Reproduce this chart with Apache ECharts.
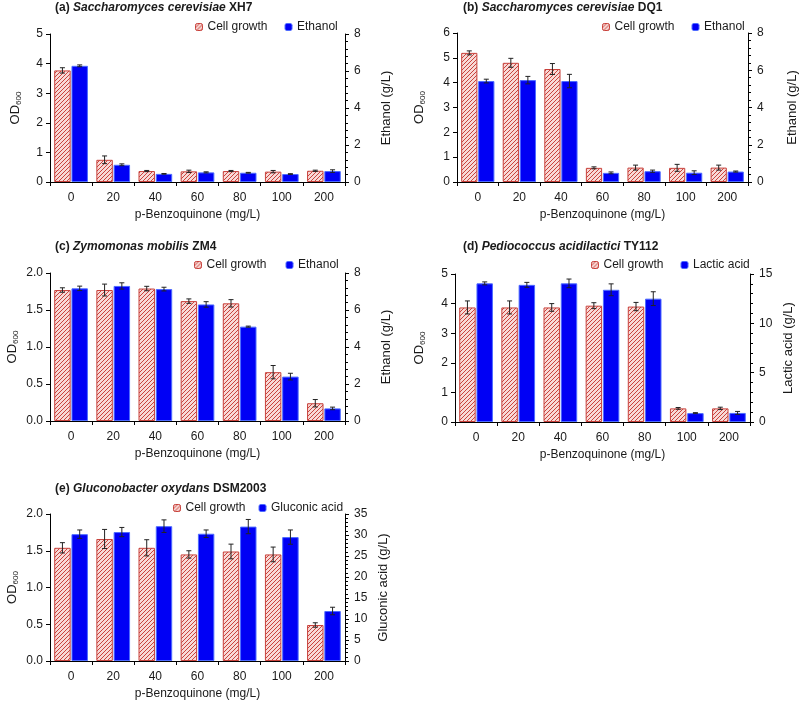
<!DOCTYPE html>
<html><head><meta charset="utf-8">
<script src="https://cdn.jsdelivr.net/npm/echarts@6/dist/echarts.min.js"></script>
<style>html,body{margin:0;padding:0;background:#fff}#c{width:800px;height:701px}</style>
</head><body><div id="c"></div>
<script>
const categories = ['0','20','40','60','80','100','200'];

const aCell = [3.77,0.75,0.37,0.36,0.37,0.35,0.38];
const aCellErr = [0.09,0.13,0.02,0.04,0.02,0.04,0.02];
const aEth = [6.28,0.93,0.44,0.52,0.50,0.43,0.59];
const aEthErr = [0.05,0.05,0.02,0.03,0.02,0.02,0.07];

const bCell = [5.20,4.80,4.55,0.57,0.58,0.57,0.58];
const bCellErr = [0.08,0.18,0.22,0.04,0.10,0.14,0.10];
const bEth = [5.42,5.47,5.42,0.49,0.58,0.50,0.56];
const bEthErr = [0.10,0.20,0.36,0.05,0.06,0.10,0.03];

const cCell = [1.77,1.77,1.79,1.62,1.59,0.66,0.24];
const cCellErr = [0.03,0.08,0.03,0.03,0.05,0.09,0.05];
const cEth = [7.17,7.30,7.13,6.30,5.10,2.40,0.68];
const cEthErr = [0.12,0.17,0.10,0.15,0.03,0.18,0.07];

const dCell = [3.87,3.87,3.87,3.93,3.90,0.46,0.46];
const dCellErr = [0.22,0.22,0.13,0.10,0.14,0.03,0.04];
const dLac = [14.05,13.90,14.05,13.40,12.50,0.90,0.92];
const dLacErr = [0.15,0.25,0.44,0.60,0.70,0.05,0.15];

const eCell = [1.54,1.66,1.54,1.45,1.49,1.45,0.49];
const eCellErr = [0.07,0.13,0.11,0.05,0.10,0.10,0.03];
const eGlu = [30.2,30.7,32.1,30.3,32.0,29.5,11.9];
const eGluErr = [1.0,1.1,1.5,0.9,1.7,1.7,0.9];

const FONT = '"Liberation Sans", Arial, sans-serif';

// hatch pattern
const pc = document.createElement('canvas');
pc.width = 4; pc.height = 4;
const g = pc.getContext('2d');
g.fillStyle = '#f8d9d6'; g.fillRect(0,0,4,4);
g.strokeStyle = '#c9433d'; g.lineWidth = 1;
g.beginPath(); g.moveTo(-1,5); g.lineTo(5,-1); g.stroke();
g.beginPath(); g.moveTo(-1,1); g.lineTo(1,-1); g.stroke();
g.beginPath(); g.moveTo(3,5); g.lineTo(5,3); g.stroke();
const hatch = {image: pc, repeat: 'repeat'};

const panels = [
  {tag:'(a) ', sp:'Saccharomyces cerevisiae', st:' XH7', grid:{left:50,top:34,width:295,height:148}, lmax:5, lint:1, ldec:0, rmax:8, rint:2, prod:'Ethanol', rname:'Ethanol (g/L)', cell:aCell, cellErr:aCellErr, p:aEth, pErr:aEthErr, titleX:55, titleY:2, legX:195, legY:21, legGap:17, lnameGap:27, rnameGap:35},
  {tag:'(b) ', sp:'Saccharomyces cerevisiae', st:' DQ1', grid:{left:457,top:33,width:293,height:149}, lmax:6, lint:1, ldec:0, rmax:8, rint:2, prod:'Ethanol', rname:'Ethanol (g/L)', cell:bCell, cellErr:bCellErr, p:bEth, pErr:bEthErr, titleX:463, titleY:2, legX:602, legY:21, legGap:17, lnameGap:30, rnameGap:38},
  {tag:'(c) ', sp:'Zymomonas mobilis', st:' ZM4', grid:{left:50,top:273,width:295,height:148}, lmax:2, lint:0.5, ldec:1, rmax:8, rint:2, prod:'Ethanol', rname:'Ethanol (g/L)', cell:cCell, cellErr:cCellErr, p:cEth, pErr:cEthErr, titleX:55, titleY:241, legX:194, legY:259, legGap:19, lnameGap:30, rnameGap:35},
  {tag:'(d) ', sp:'Pediococcus acidilactici', st:' TY112', grid:{left:455,top:274,width:295,height:148}, lmax:5, lint:1, ldec:0, rmax:15, rint:5, prod:'Lactic acid', rname:'Lactic acid (g/L)', cell:dCell, cellErr:dCellErr, p:dLac, pErr:dLacErr, titleX:463, titleY:241, legX:591, legY:259, legGap:17, lnameGap:28, rnameGap:32},
  {tag:'(e) ', sp:'Gluconobacter oxydans', st:' DSM2003', grid:{left:50,top:514,width:295,height:148}, lmax:2, lint:0.5, ldec:1, rmax:35, rint:5, prod:'Gluconic acid', rname:'Gluconic acid (g/L)', cell:eCell, cellErr:eCellErr, p:eGlu, pErr:eGluErr, titleX:55, titleY:483, legX:173, legY:502, legGap:13, lnameGap:30, rnameGap:32}
];

const CG = 'Cell growth';
const grids = [], xAxes = [], yAxes = [], series = [], titles = [], legends = [];

function errSeries(xi, yi, vals, errs, side) {
  return {
    type: 'custom', xAxisIndex: xi, yAxisIndex: yi, z: 10, silent: true,
    data: vals.map((v,i) => [i, v, errs[i]]),
    encode: {x: 0, y: 1},
    renderItem: function (params, api) {
      const band = api.size([1,0])[0];
      const w = band * 0.8 / 2.05;
      const off = side * 0.525 * w;
      const i = api.value(0), v = api.value(1), e = api.value(2);
      const t = api.coord([i, v + e]), b = api.coord([i, v - e]);
      const x = t[0] + off, c = 2.5;
      const st = {stroke: '#222', lineWidth: 1};
      return {type: 'group', children: [
        {type:'line', shape:{x1:x,y1:t[1],x2:x,y2:b[1]}, style:st},
        {type:'line', shape:{x1:x-c,y1:t[1],x2:x+c,y2:t[1]}, style:st},
        {type:'line', shape:{x1:x-c,y1:b[1],x2:x+c,y2:b[1]}, style:st}
      ]};
    }
  };
}

const axisLine = {show: true, lineStyle: {color: '#000', width: 1}};
const label = {color: '#1a1a1a', fontSize: 12, fontFamily: FONT};

panels.forEach((p, k) => {
  grids.push(Object.assign({containLabel: false}, p.grid));
  xAxes.push({
    type: 'category', gridIndex: k, data: categories, boundaryGap: true,
    axisLine: axisLine, axisTick: {show: true, length: 4, alignWithLabel: false, lineStyle: {color: '#000'}},
    axisLabel: Object.assign({margin: 10}, label),
    name: 'p-Benzoquinone (mg/L)', nameLocation: 'middle', nameGap: 27,
    nameTextStyle: {color: '#1a1a1a', fontSize: 12, fontFamily: FONT}
  });
  yAxes.push({
    type: 'value', gridIndex: k, min: 0, max: p.lmax, interval: p.lint,
    axisLine: axisLine, axisTick: {show: true, length: 4, lineStyle: {color: '#000'}},
    splitLine: {show: false},
    axisLabel: Object.assign({margin: 7, formatter: v => v.toFixed(p.ldec)}, label),
    name: '{a|OD}{b|600}', nameLocation: 'middle', nameRotate: 90, nameGap: p.lnameGap,
    nameTextStyle: {rich: {a: {fontSize: 13, fontFamily: FONT, color: '#1a1a1a', lineHeight: 16}, b: {fontSize: 8, fontFamily: FONT, color: '#1a1a1a', verticalAlign: 'bottom', lineHeight: 16, padding: [6,0,0,0]}}}
  });
  yAxes.push({
    type: 'value', gridIndex: k, position: 'right', min: 0, max: p.rmax, interval: p.rint,
    axisLine: axisLine, axisTick: {show: true, length: 4, lineStyle: {color: '#000'}},
    minorTick: {show: true, splitNumber: 5, length: 3, lineStyle: {color: '#000'}},
    splitLine: {show: false},
    axisLabel: Object.assign({margin: 9}, label),
    name: p.rname, nameLocation: 'middle', nameRotate: 90, nameGap: p.rnameGap,
    nameTextStyle: {color: '#1a1a1a', fontSize: 13, fontFamily: FONT}
  });
  series.push({
    name: CG, type: 'bar', xAxisIndex: k, yAxisIndex: 2*k, data: p.cell,
    barCategoryGap: '20%', barGap: '5%',
    itemStyle: {color: hatch, borderColor: '#c8423c', borderWidth: 1}
  });
  series.push({
    name: p.prod, type: 'bar', xAxisIndex: k, yAxisIndex: 2*k+1, data: p.p,
    barCategoryGap: '20%', barGap: '5%',
    itemStyle: {color: '#0000f5', borderColor: '#4d6bff', borderWidth: 1}
  });
  series.push(errSeries(k, 2*k, p.cell, p.cellErr, -1));
  series.push(errSeries(k, 2*k+1, p.p, p.pErr, 1));
  titles.push({
    left: p.titleX, top: p.titleY, padding: 0,
    text: '{n|' + p.tag + '}{i|' + p.sp + '}{n|' + p.st + '}',
    textStyle: {rich: {
      n: {fontSize: 12, fontWeight: 'bold', fontFamily: FONT, color: '#1a1a1a'},
      i: {fontSize: 12, fontWeight: 'bold', fontStyle: 'italic', fontFamily: FONT, color: '#1a1a1a'}
    }}
  });
  legends.push({
    left: p.legX, top: p.legY, padding: 0, itemWidth: 7, itemHeight: 7, itemGap: p.legGap,
    data: [
      {name: CG, itemStyle: {color: hatch, borderColor: '#c8423c', borderWidth: 1}},
      {name: p.prod, itemStyle: {color: '#0000f5', borderColor: '#4d6bff', borderWidth: 1}}
    ],
    textStyle: {fontSize: 12, fontFamily: FONT, color: '#1a1a1a'},
    selectedMode: false
  });
});

const chart = echarts.init(document.getElementById('c'), null, {renderer: 'canvas'});
chart.setOption({
  animation: false,
  backgroundColor: '#fff',
  title: titles, legend: legends, grid: grids, xAxis: xAxes, yAxis: yAxes, series: series
});
</script>
</body></html>
